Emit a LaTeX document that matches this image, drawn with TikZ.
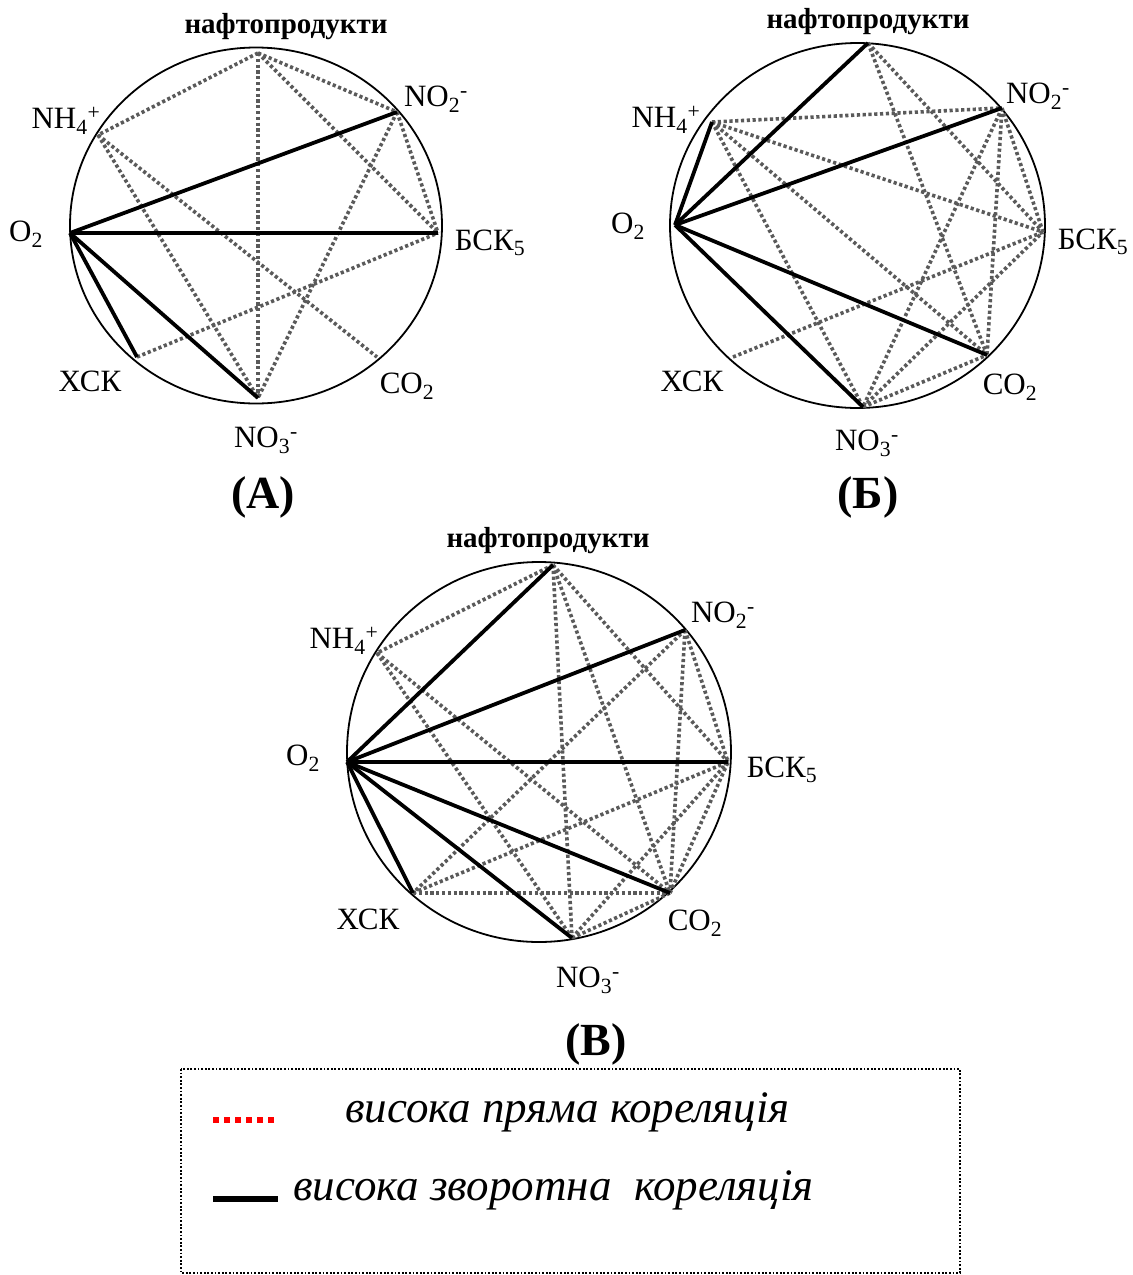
\documentclass[tikz,border=0pt]{standalone}
\usepackage{fontspec}
\setmainfont{Liberation Serif}
\definecolor{dotgray}{RGB}{90,90,90}
\definecolor{legred}{RGB}{255,0,0}
\begin{document}
\begin{tikzpicture}[x=1pt,y=-1pt,
  ring/.style={line width=1.8pt,black},
  posc/.style={line width=3.6pt,dotgray,dash pattern=on 3.2pt off 2.6pt},
  negc/.style={line width=3.8pt,black},
  lbl/.style={font=\fontsize{31}{34}\selectfont,inner sep=0pt},
  ttl/.style={font=\bfseries\fontsize{29}{32}\selectfont,inner sep=0pt},
  capt/.style={font=\bfseries\fontsize{46}{50}\selectfont,inner sep=0pt},
  leg/.style={font=\itshape\fontsize{45}{50}\selectfont,inner sep=0pt,anchor=west},
  legbox/.style={line width=1.8pt,black,dash pattern=on 1.8pt off 1.8pt}]
\useasboundingbox (0,0) rectangle (1133,1275);
\fill[white] (0,0) rectangle (1133,1275);

% ---------- (A) ----------
\draw[ring] (256,225.5) ellipse [x radius=186, y radius=178];
\coordinate (A-naf) at (258,53);
\coordinate (A-no2) at (397,112);
\coordinate (A-bsk) at (438,233);
\coordinate (A-co2) at (377,357);
\coordinate (A-no3) at (258,398);
\coordinate (A-xsk) at (137,357);
\coordinate (A-o2)  at (70,233);
\coordinate (A-nh4) at (98,135);
\draw[posc] (A-naf) -- (A-nh4);
\draw[posc] (A-naf) -- (A-no2);
\draw[posc] (A-naf) -- (A-no3);
\draw[posc] (A-naf) -- (A-bsk);
\draw[posc] (A-no2) -- (A-bsk);
\draw[posc] (A-no2) -- (A-no3);
\draw[posc] (A-nh4) -- (A-co2);
\draw[posc] (A-nh4) -- (A-no3);
\draw[posc] (A-xsk) -- (A-bsk);
\draw[negc] (A-o2) -- (A-no2);
\draw[negc] (A-o2) -- (A-bsk);
\draw[negc] (A-o2) -- (A-no3);
\draw[negc] (A-o2) -- (A-xsk);
\node[ttl] (A-naf-l) at (286,27) {нафтопродукти};
\node[lbl] (A-no2-l) at (436,99) {NO\textsubscript{2}\textsuperscript{-}};
\node[lbl] (A-nh4-l) at (66,121) {NH\textsubscript{4}\textsuperscript{+}};
\node[lbl] (A-o2-l)  at (26,234) {O\textsubscript{2}};
\node[lbl] (A-bsk-l) at (490,243) {БСК\textsubscript{5}};
\node[lbl] (A-xsk-l) at (90,381) {ХСК};
\node[lbl] (A-co2-l) at (407,386) {CO\textsubscript{2}};
\node[lbl] (A-no3-l) at (266,440) {NO\textsubscript{3}\textsuperscript{-}};
\node[capt] (A-cap) at (263,497) {(А)};

% ---------- (Б) ----------
\draw[ring] (857.5,225.5) ellipse [x radius=187.5, y radius=182.5];
\coordinate (B-naf) at (868,43);
\coordinate (B-no2) at (1002,108);
\coordinate (B-bsk) at (1043,232);
\coordinate (B-co2) at (987,355);
\coordinate (B-no3) at (863,407);
\coordinate (B-xsk) at (733,357);
\coordinate (B-o2)  at (675,225);
\coordinate (B-nh4) at (712,122);
\draw[posc] (B-nh4) -- (B-no2);
\draw[posc] (B-nh4) -- (B-bsk);
\draw[posc] (B-nh4) -- (B-co2);
\draw[posc] (B-nh4) -- (B-no3);
\draw[posc] (B-naf) -- (B-bsk);
\draw[posc] (B-naf) -- (B-co2);
\draw[posc] (B-no2) -- (B-bsk);
\draw[posc] (B-no2) -- (B-co2);
\draw[posc] (B-no2) -- (B-no3);
\draw[posc] (B-xsk) -- (B-bsk);
\draw[posc] (B-no3) -- (B-bsk);
\draw[posc] (B-no3) -- (B-co2);
\draw[negc] (B-o2) -- (B-naf);
\draw[negc] (B-o2) -- (B-no2);
\draw[negc] (B-o2) -- (B-nh4);
\draw[negc] (B-o2) -- (B-co2);
\draw[negc] (B-o2) -- (B-no3);
\node[ttl] (B-naf-l) at (868,22) {нафтопродукти};
\node[lbl] (B-no2-l) at (1038,96) {NO\textsubscript{2}\textsuperscript{-}};
\node[lbl] (B-nh4-l) at (666,120) {NH\textsubscript{4}\textsuperscript{+}};
\node[lbl] (B-o2-l)  at (628,226) {O\textsubscript{2}};
\node[lbl] (B-bsk-l) at (1093,242) {БСК\textsubscript{5}};
\node[lbl] (B-xsk-l) at (692,381) {ХСК};
\node[lbl] (B-co2-l) at (1010,387) {CO\textsubscript{2}};
\node[lbl] (B-no3-l) at (867,443) {NO\textsubscript{3}\textsuperscript{-}};
\node[capt] (B-cap) at (868,497) {(Б)};

% ---------- (В) ----------
\draw[ring] (539,752) ellipse [x radius=192, y radius=190];
\coordinate (C-naf) at (553,565);
\coordinate (C-no2) at (685,630);
\coordinate (C-bsk) at (728,762);
\coordinate (C-co2) at (670,893);
\coordinate (C-no3) at (572,938);
\coordinate (C-xsk) at (413,893);
\coordinate (C-o2)  at (347,762);
\coordinate (C-nh4) at (377,653);
\draw[posc] (C-naf) -- (C-nh4);
\draw[posc] (C-naf) -- (C-no3);
\draw[posc] (C-naf) -- (C-co2);
\draw[posc] (C-naf) -- (C-bsk);
\draw[posc] (C-nh4) -- (C-co2);
\draw[posc] (C-nh4) -- (C-no3);
\draw[posc] (C-no2) -- (C-bsk);
\draw[posc] (C-no2) -- (C-co2);
\draw[posc] (C-no2) -- (C-xsk);
\draw[posc] (C-xsk) -- (C-co2);
\draw[posc] (C-xsk) -- (C-bsk);
\draw[posc] (C-no3) -- (C-co2);
\draw[posc] (C-no3) -- (C-bsk);
\draw[posc] (C-co2) -- (C-bsk);
\draw[negc] (C-o2) -- (C-naf);
\draw[negc] (C-o2) -- (C-no2);
\draw[negc] (C-o2) -- (C-bsk);
\draw[negc] (C-o2) -- (C-co2);
\draw[negc] (C-o2) -- (C-no3);
\draw[negc] (C-o2) -- (C-xsk);
\node[ttl] (C-naf-l) at (548,541) {нафтопродукти};
\node[lbl] (C-no2-l) at (723,615) {NO\textsubscript{2}\textsuperscript{-}};
\node[lbl] (C-nh4-l) at (344,641) {NH\textsubscript{4}\textsuperscript{+}};
\node[lbl] (C-o2-l)  at (303,758) {O\textsubscript{2}};
\node[lbl] (C-bsk-l) at (782,770) {БСК\textsubscript{5}};
\node[lbl] (C-xsk-l) at (368,919) {ХСК};
\node[lbl] (C-co2-l) at (695,923) {CO\textsubscript{2}};
\node[lbl] (C-no3-l) at (588,980) {NO\textsubscript{3}\textsuperscript{-}};
\node[capt] (C-cap) at (596,1044) {(В)};

% ---------- legend ----------
\draw[legbox] (181,1069) rectangle (960,1273);
\coordinate (L1a) at (213,1120);
\coordinate (L1b) at (276,1120);
\coordinate (L2a) at (213,1199);
\coordinate (L2b) at (278,1199);
\draw[line width=5.5pt,legred,dash pattern=on 6pt off 5pt] (L1a) -- (L1b);
\draw[line width=6pt,black] (L2a) -- (L2b);
\node[leg] (L1t) at (345,1112) {висока пряма кореляція};
\node[leg] (L2t) at (293,1190) {висока зворотна\ \ кореляція};
\end{tikzpicture}
\end{document}
